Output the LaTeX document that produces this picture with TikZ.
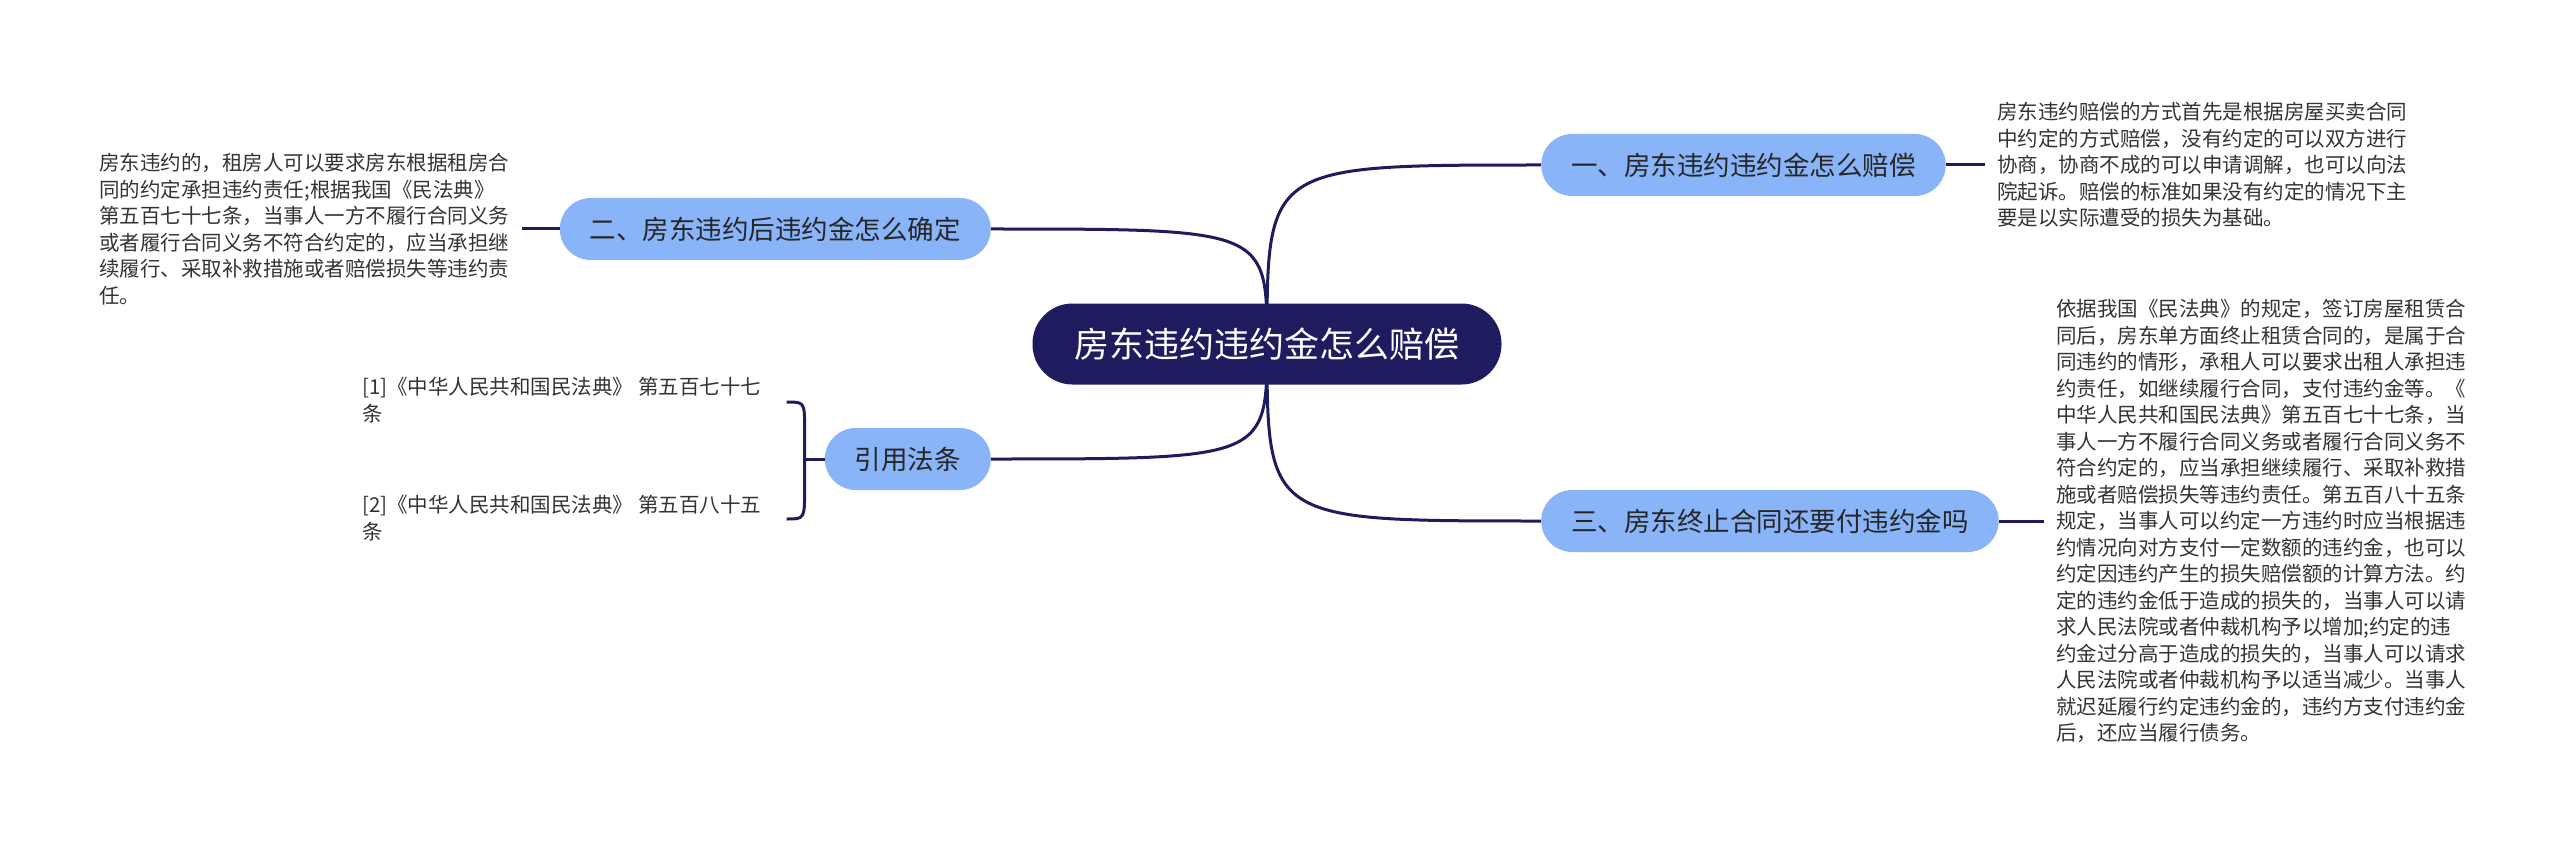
\documentclass[tikz,border=0pt]{standalone}
\usepackage{fontspec}
\setmainfont{Noto Sans CJK SC}
\usepackage{xcolor}
\usepackage{tikz}
\usetikzlibrary{
    positioning,
    backgrounds,
    calc
}
\definecolor{navy}{HTML}{1E1B5E}
\definecolor{skyblue}{HTML}{8AB4F8}
\definecolor{inkgray}{HTML}{333333}
\tikzset{
    root/.style={
        rectangle,
        rounded corners=40pt,
        fill=navy,
        text=white,
        minimum height=81pt,
        inner xsep=42pt,
        font=\fontsize{35}{42}\selectfont
    },
    branch/.style={
        rectangle,
        rounded corners=31pt,
        fill=skyblue,
        text=black!85,
        minimum height=62pt,
        inner xsep=30pt,
        font=\fontsize{26.5}{32}\selectfont
    },
    note/.style={
        align=left,
        inner xsep=12pt,
        inner ysep=0pt,
        text=inkgray,
        font=\fontsize{20.5}{26.5}\selectfont
    },
    link/.style={
        draw=navy,
        line width=3pt
    }
}

\begin{document}
\begin{tikzpicture}[x=1pt, y=-1pt]
\useasboundingbox (0,0) rectangle (2560,845);

\node[root] (main) at (1267,344) {房东违约违约金怎么赔偿};

\node[branch, anchor=west] (sec1) at (1541,165) {一、房东违约违约金怎么赔偿};
\node[branch, anchor=west] (sec3) at (1541,521) {三、房东终止合同还要付违约金吗};
\node[branch, anchor=east] (sec2) at (991,229) {二、房东违约后违约金怎么确定};
\node[branch, anchor=east] (cite) at (991,459) {引用法条};

\node[note, right=39pt of sec1] (txt1) {房东违约赔偿的方式首先是根据房屋买卖合同\\
中约定的方式赔偿，没有约定的可以双方进行\\
协商，协商不成的可以申请调解，也可以向法\\
院起诉。赔偿的标准如果没有约定的情况下主\\
要是以实际遭受的损失为基础。};

\node[note, left=38pt of sec2] (txt2) {房东违约的，租房人可以要求房东根据租房合\\
同的约定承担违约责任;根据我国《民法典》\\
第五百七十七条，当事人一方不履行合同义务\\
或者履行合同义务不符合约定的，应当承担继\\
续履行、采取补救措施或者赔偿损失等违约责\\
任。};

\node[note, right=45pt of sec3] (txt3) {依据我国《民法典》的规定，签订房屋租赁合\\
同后，房东单方面终止租赁合同的，是属于合\\
同违约的情形，承租人可以要求出租人承担违\\
约责任，如继续履行合同，支付违约金等。《\\
中华人民共和国民法典》第五百七十七条，当\\
事人一方不履行合同义务或者履行合同义务不\\
符合约定的，应当承担继续履行、采取补救措\\
施或者赔偿损失等违约责任。第五百八十五条\\
规定，当事人可以约定一方违约时应当根据违\\
约情况向对方支付一定数额的违约金，也可以\\
约定因违约产生的损失赔偿额的计算方法。约\\
定的违约金低于造成的损失的，当事人可以请\\
求人民法院或者仲裁机构予以增加;约定的违\\
约金过分高于造成的损失的，当事人可以请求\\
人民法院或者仲裁机构予以适当减少。当事人\\
就迟延履行约定违约金的，违约方支付违约金\\
后，还应当履行债务。};

% cited articles
\coordinate (brace) at ($(cite.west)+(-20,0)$);
\node[note, anchor=west] (ref1) at (350,400) {[1]《中华人民共和国民法典》 第五百七十七\\条};
\node[note, anchor=west] (ref2) at ($(ref1.west)+(0,118)$) {[2]《中华人民共和国民法典》 第五百八十五\\条};

\begin{scope}[on background layer]
\draw[link] (main.center) .. controls (main.center |- sec1.west) .. (sec1.west);
\draw[link] (main.center) .. controls (main.center |- sec3.west) .. (sec3.west);
\draw[link] (main.center) .. controls (main.center |- sec2.east) .. (sec2.east);
\draw[link] (main.center) .. controls (main.center |- cite.east) .. (cite.east);
\end{scope}

\draw[link] (sec1.east) -- (txt1.west);
\draw[link] (sec2.west) -- (txt2.east);
\draw[link] (sec3.east) -- (txt3.west);
\draw[link] (cite.west) -- (brace);
\draw[link] ($(brace)+(-18,-57)$) .. controls ($(brace)+(0,-57)$) .. ($(brace)+(0,-30)$)
    -- ($(brace)+(0,30)$) .. controls ($(brace)+(0,60)$) .. ($(brace)+(-18,60)$);

\end{tikzpicture}
\end{document}
